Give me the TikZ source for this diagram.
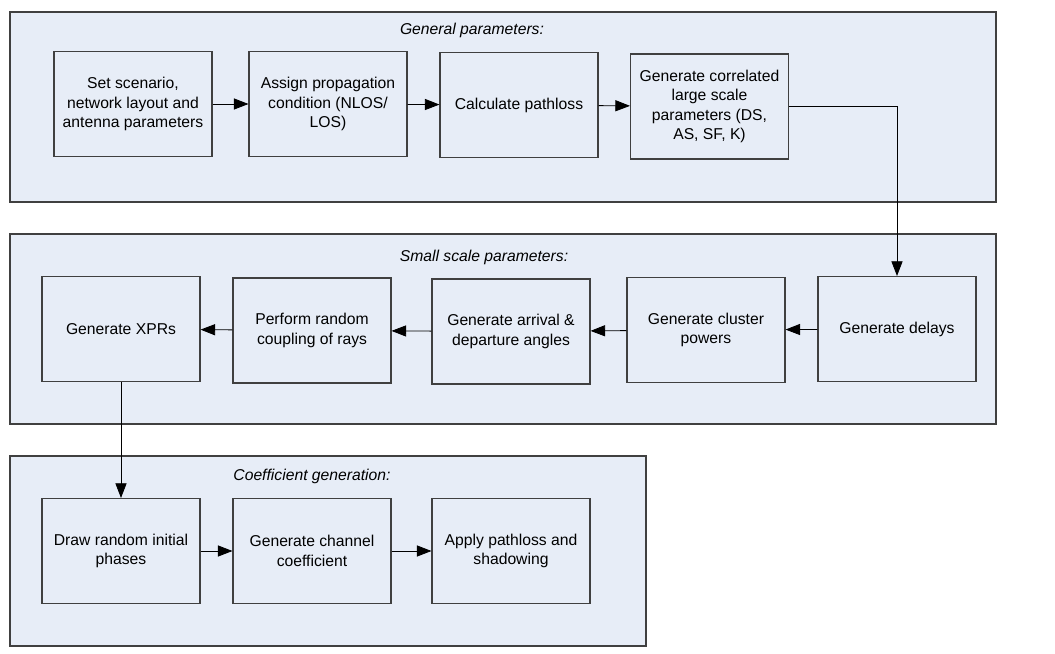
\documentclass[tikz,border=0pt]{standalone}
\usepackage{fontspec}
\setmainfont{Liberation Sans}
\usetikzlibrary{arrows.meta}
\definecolor{panelfill}{HTML}{E7EDF7}
\definecolor{edgegray}{HTML}{404040}
\tikzset{
  panel/.style={draw=edgegray, line width=0.9pt, fill=panelfill},
  stepbox/.style={draw=edgegray, line width=0.9pt, fill=panelfill, minimum width=158*0.03cm, minimum height=105*0.03cm, align=center, font=\fontsize{13.4}{16.6}\selectfont, inner sep=0pt},
  ptitle/.style={font=\fontsize{13.4}{16}\selectfont\itshape},
  conn/.style={draw=black, line width=0.7pt, -{Triangle[length=12.5pt,width=9.5pt]}}
}
\begin{document}
\begin{tikzpicture}[x=0.03cm,y=-0.03cm]
\useasboundingbox (0,0) rectangle (1055,654);
% panels
\draw[panel] (10,12) rectangle (996,202);
\draw[panel] (10,234) rectangle (996,424);
\draw[panel] (10,456) rectangle (646,646);
\node[ptitle] (t1) at (472,30) {General parameters:};
\node[ptitle] (t2) at (484,257) {Small scale parameters:};
\node[ptitle] (t3) at (312,476) {Coefficient generation:};
% row 1
\node[stepbox] (a) at (133,104) {Set scenario,\\network layout and\\antenna parameters};
\node[stepbox] (b) at (328,104) {Assign propagation\\condition (NLOS/\\LOS)};
\node[stepbox] (c) at (519,105) {Calculate pathloss};
\node[stepbox] (d) at (709.5,106.5) {Generate correlated\\large scale\\parameters (DS,\\AS, SF, K)};
% row 2
\node[stepbox] (x) at (121,329) {Generate XPRs};
\node[stepbox] (p) at (312,330.5) {Perform random\\coupling of rays};
\node[stepbox] (g) at (511,331.5) {Generate arrival \&\\departure angles};
\node[stepbox] (cp) at (706,330) {Generate cluster\\powers};
\node[stepbox] (dl) at (897,329) {Generate delays};
% row 3
\node[stepbox] (r) at (121,551) {Draw random initial\\phases};
\node[stepbox] (cc) at (312,551) {Generate channel\\coefficient};
\node[stepbox] (ap) at (511,551) {Apply pathloss and\\shadowing};
% connectors
\draw[conn] (a) -- (b);
\draw[conn] (b) -- (c);
\draw[conn] (c) -- (d);
\draw[conn] (d.east) -- (d.east -| dl.north) -- (dl.north);
\draw[conn] (dl) -- (cp);
\draw[conn] (cp) -- (g);
\draw[conn] (g) -- (p);
\draw[conn] (p) -- (x);
\draw[conn] (x) -- (r);
\draw[conn] (r) -- (cc);
\draw[conn] (cc) -- (ap);
\end{tikzpicture}
\end{document}
